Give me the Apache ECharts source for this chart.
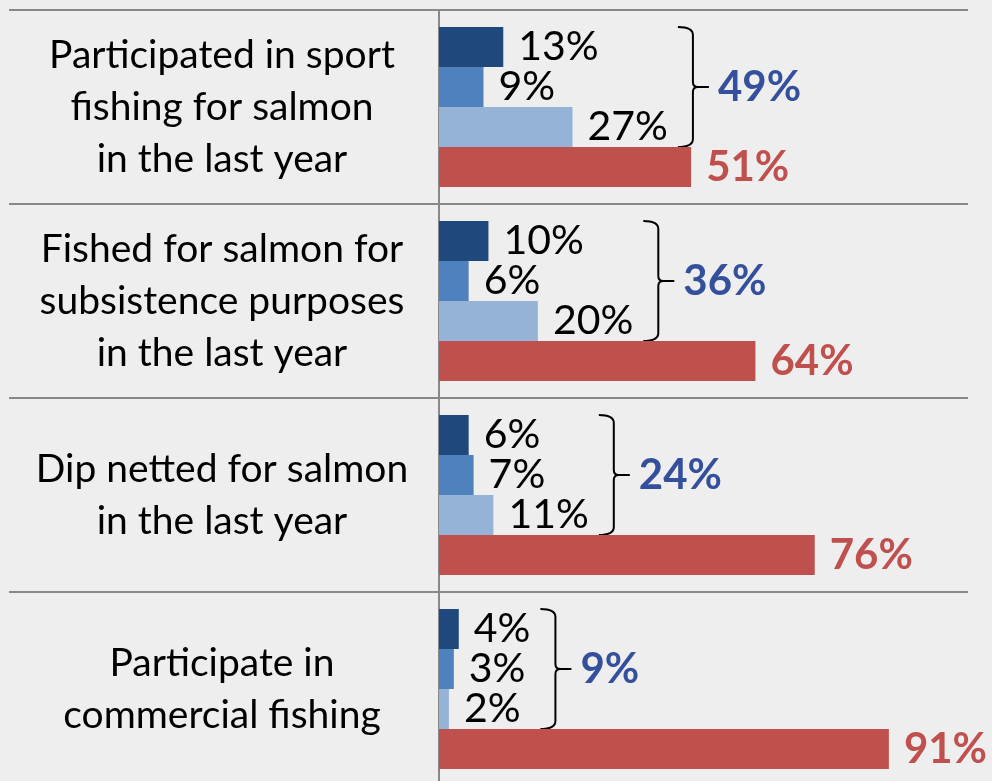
<!DOCTYPE html>
<html>
<head>
<meta charset="utf-8">
<script src="https://cdn.jsdelivr.net/npm/echarts@6/dist/echarts.min.js"></script>
<style>
  html, body { margin: 0; padding: 0; background: #eeeeee; }
  #chart { width: 992px; height: 781px; }
</style>
</head>
<body>
<div id="chart"></div>
<script>
// data
const categories = [
    'Participated in sport\nfishing for salmon\nin the last year',
    'Fished for salmon for\nsubsistence purposes\nin the last year',
    'Dip netted for salmon\nin the last year',
    'Participate in\ncommercial fishing'
];
const darkVals = [13, 10, 6, 4];
const midVals = [9, 6, 7, 3];
const lightVals = [27, 20, 11, 2];
const redVals = [51, 64, 76, 91];

const FONT = 'Lato';
const valSize = 41;
const boldSize = 42;
const catSize = 39;

const blueSums = darkVals.map((v, i) => v + midVals[i] + lightVals[i]);

// measure label width so the brace sits after the longest label
const measureCtx = document.createElement('canvas').getContext('2d');
function textWidth(txt, size, weight) {
    measureCtx.font = (weight || 'normal') + ' ' + size + 'px ' + FONT;
    return measureCtx.measureText(txt).width;
}

const chart = echarts.init(document.getElementById('chart'));

function barSeries(name, vals, color, labelColor, bold) {
    return {
        name: name,
        type: 'bar',
        data: vals,
        barWidth: 40,
        barGap: '0%',
        itemStyle: { color: color },
        label: {
            show: true,
            position: 'right',
            distance: 15,
            formatter: '{c}%',
            color: labelColor,
            fontFamily: FONT,
            fontSize: bold ? boldSize : valSize,
            fontWeight: bold ? 'bold' : 'normal'
        },
        silent: true
    };
}

const option = {
    backgroundColor: '#eeeeee',
    animation: false,
    grid: { left: 439, right: 24, top: 10, height: 776, outerBoundsMode: 'none' },
    xAxis: {
        type: 'value',
        min: 0,
        max: 107,
        axisLabel: { show: false },
        axisLine: { show: false },
        axisTick: { show: false },
        splitLine: { show: false }
    },
    yAxis: {
        type: 'category',
        inverse: true,
        data: categories,
        axisLine: { show: true, lineStyle: { color: '#888888', width: 2 } },
        axisTick: { show: true, length: 430, lineStyle: { color: '#888888', width: 2 } },
        splitLine: { show: true, lineStyle: { color: '#888888', width: 2 } },
        axisLabel: {
            margin: 217,
            align: 'center',
            color: '#000000',
            fontFamily: FONT,
            fontSize: catSize,
            lineHeight: 52
        }
    },
    series: [
        barSeries('dark', darkVals, '#1f497d', '#000000', false),
        barSeries('mid', midVals, '#4f81bd', '#000000', false),
        barSeries('light', lightVals, '#95b3d7', '#000000', false),
        barSeries('red', redVals, '#c0504d', '#c0504d', true),
        {
            type: 'custom',
            data: blueSums.map((s, i) => [s, i]),
            encode: { x: 0, y: 1 },
            silent: true,
            renderItem: function (params, api) {
                const idx = api.value(1);
                const center = api.coord([0, idx]);
                let right = 0;
                [darkVals, midVals, lightVals].forEach(function (arr) {
                    const end = api.coord([arr[idx], idx])[0] + 15 + textWidth(arr[idx] + '%', valSize);
                    right = Math.max(right, end);
                });
                const x0 = right + 10;
                const x1 = x0 + 15;
                const tip = x1 + 16;
                const top = center[1] - 80;
                const bot = center[1] + 40;
                const mid = center[1] - 20;
                const path = 'M' + x0 + ',' + top +
                    ' Q' + x1 + ',' + top + ' ' + x1 + ',' + (top + 8) +
                    ' L' + x1 + ',' + (mid - 5) +
                    ' Q' + x1 + ',' + mid + ' ' + (x1 + 5) + ',' + mid +
                    ' L' + tip + ',' + mid +
                    ' M' + (x1 + 5) + ',' + mid +
                    ' Q' + x1 + ',' + mid + ' ' + x1 + ',' + (mid + 5) +
                    ' L' + x1 + ',' + (bot - 8) +
                    ' Q' + x1 + ',' + bot + ' ' + x0 + ',' + bot;
                return {
                    type: 'group',
                    children: [
                        {
                            type: 'path',
                            shape: { pathData: path },
                            style: { stroke: '#000000', fill: null, lineWidth: 2 }
                        },
                        {
                            type: 'text',
                            style: {
                                text: api.value(0) + '%',
                                x: tip + 9,
                                y: mid,
                                fill: '#34509c',
                                fontFamily: FONT,
                                fontSize: boldSize,
                                fontWeight: 'bold',
                                verticalAlign: 'middle'
                            }
                        }
                    ]
                };
            }
        }
    ]
};

chart.setOption(option);
</script>
</body>
</html>
